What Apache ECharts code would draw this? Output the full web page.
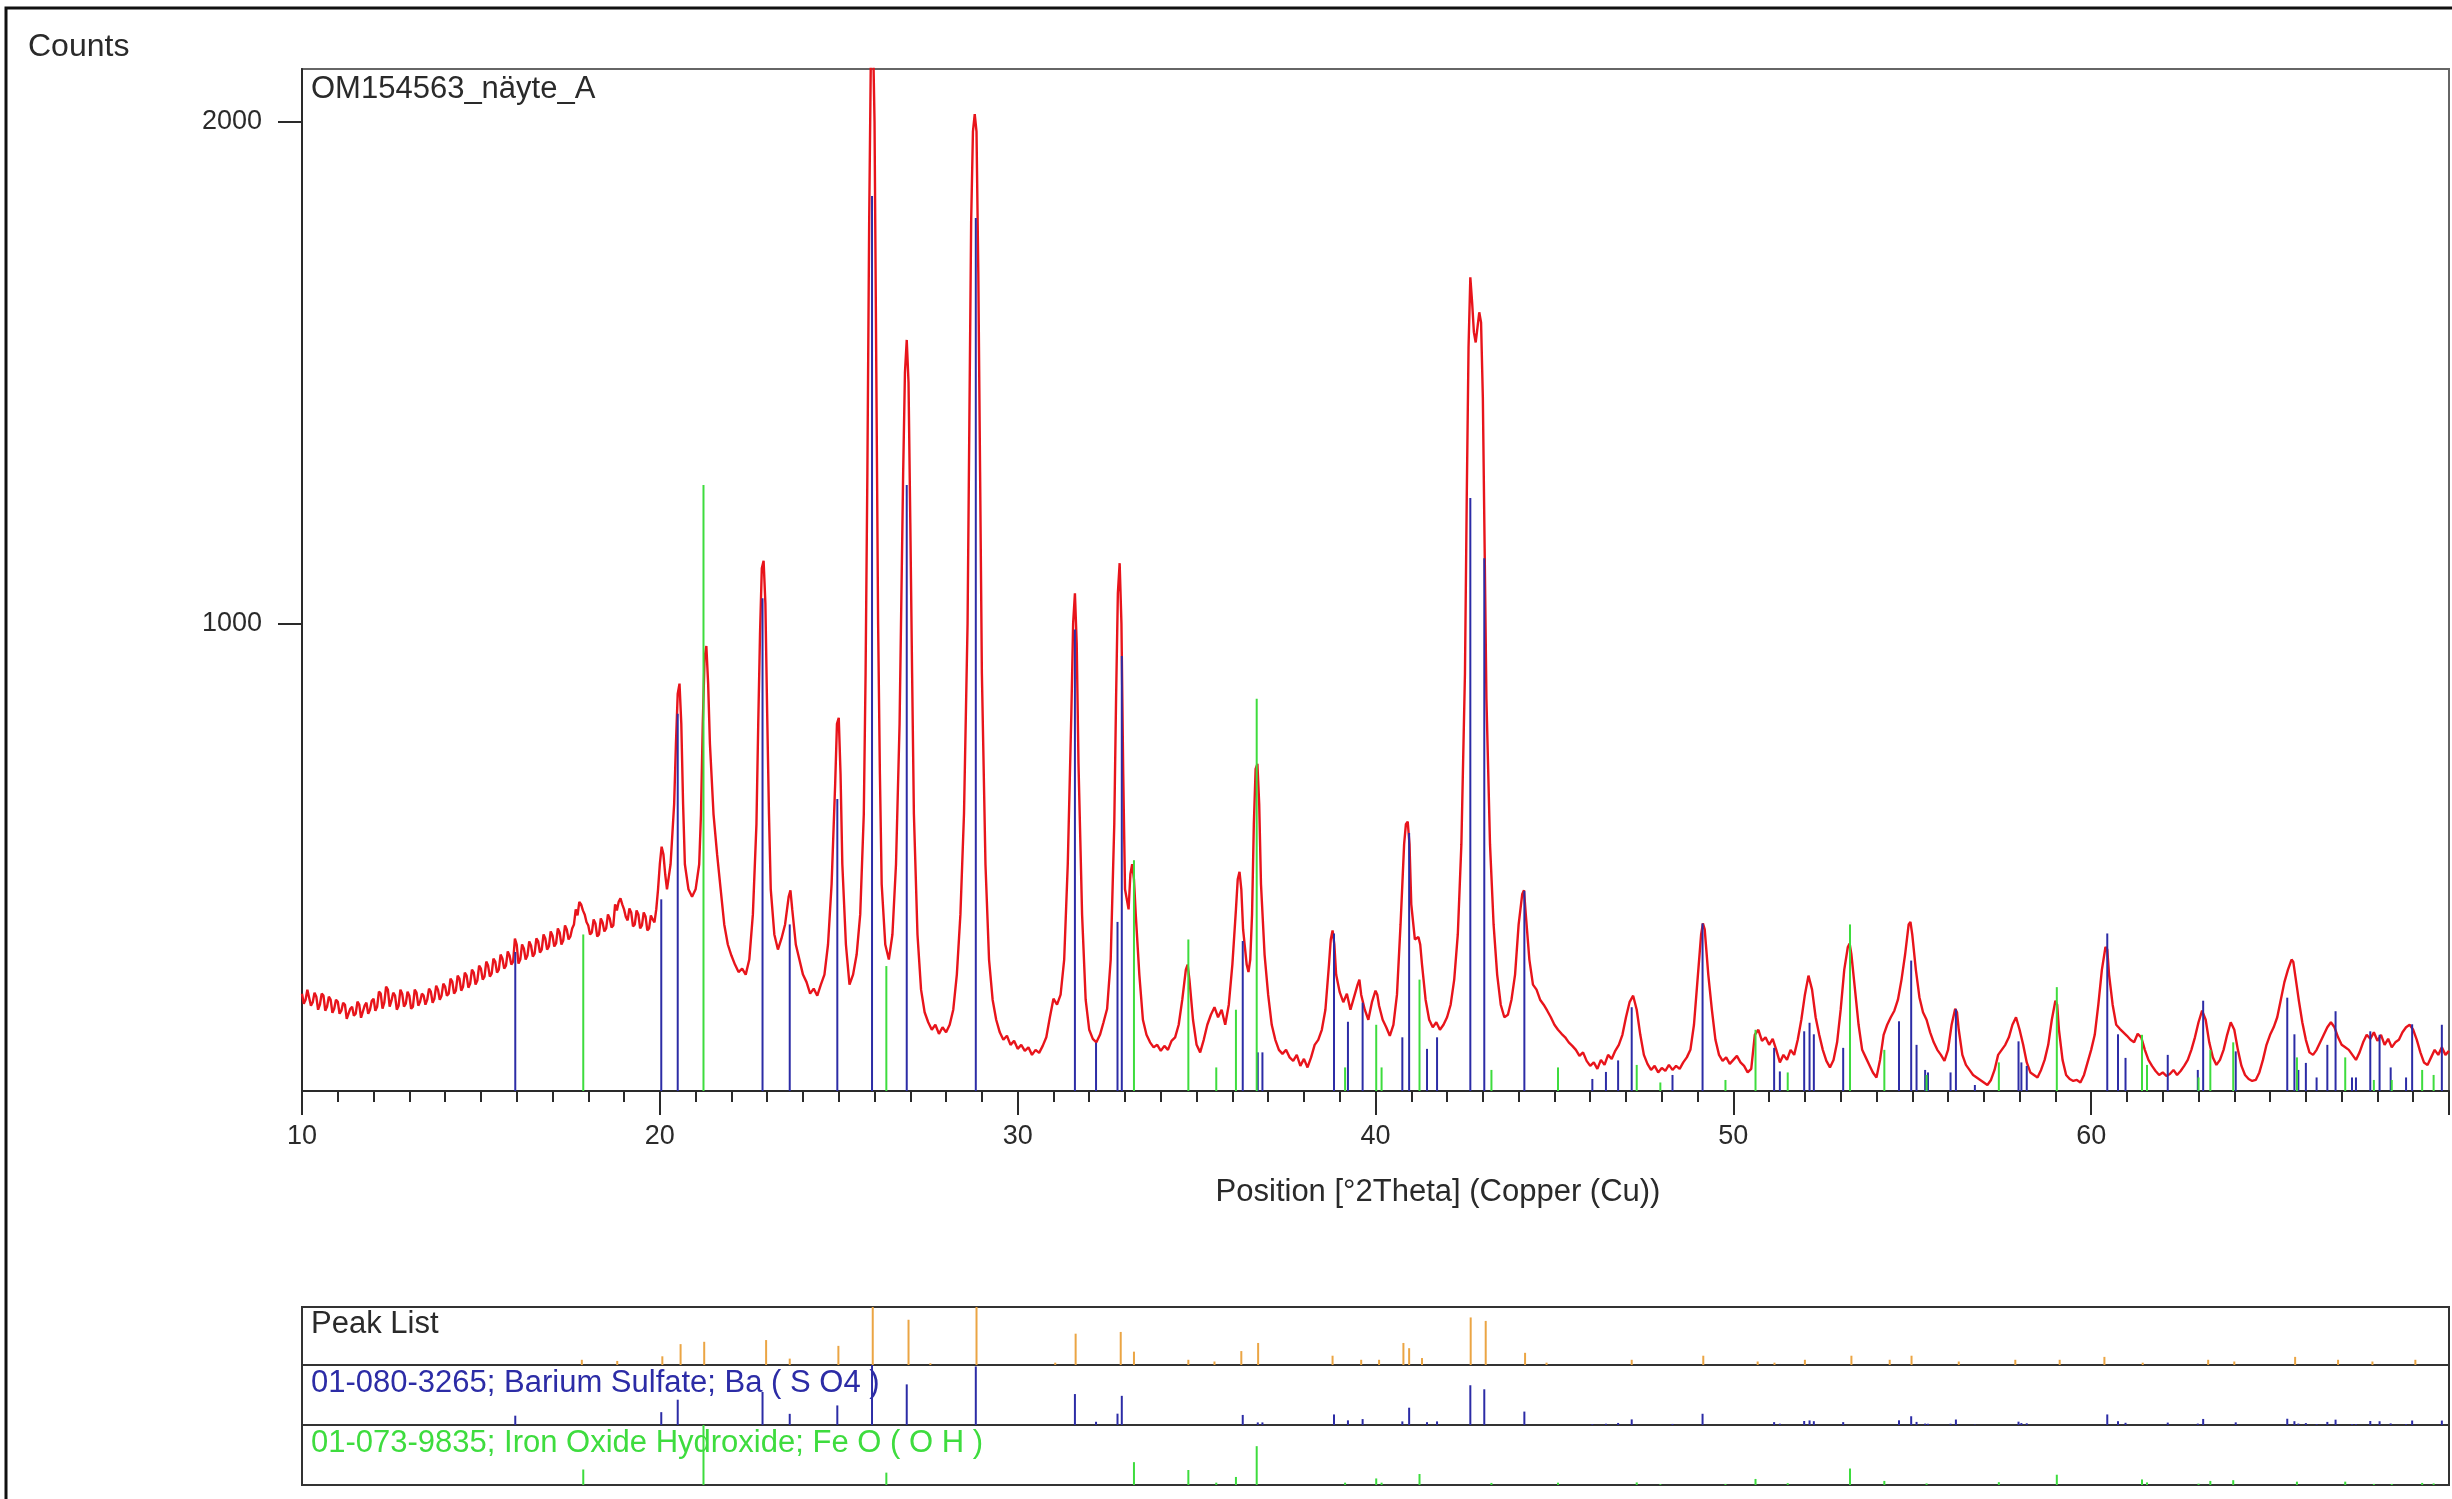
<!DOCTYPE html>
<html>
<head>
<meta charset="utf-8">
<title>OM154563_näyte_A</title>
<script src="https://cdn.jsdelivr.net/npm/echarts@6/dist/echarts.min.js"></script>
<style>
  html, body { margin: 0; padding: 0; background: #ffffff; }
  #chart { width: 2452px; height: 1499px; }
</style>
</head>
<body>
<div id="chart"></div>
<script>
// Measured scan: [position °2Theta, counts]
const scanPattern = [
  [10.0,262],[10.05,242],[10.1,250],[10.15,270],[10.2,268],[10.25,238],[10.3,245],[10.35,264],[10.4,256],[10.45,230],
  [10.5,240],[10.55,262],[10.6,258],[10.65,228],[10.7,236],[10.75,256],[10.8,250],[10.85,224],[10.9,232],[10.95,250],
  [11.0,246],[11.05,222],[11.1,228],[11.15,244],[11.2,240],[11.25,212],[11.3,215],[11.35,232],[11.4,236],[11.45,218],
  [11.5,222],[11.55,246],[11.6,240],[11.65,214],[11.7,226],[11.75,238],[11.8,244],[11.85,222],[11.9,230],[11.95,248],
  [12.0,252],[12.05,228],[12.1,236],[12.15,266],[12.2,262],[12.25,232],[12.3,244],[12.35,276],[12.4,270],[12.45,236],
  [12.5,248],[12.55,264],[12.6,258],[12.65,230],[12.7,238],[12.75,270],[12.8,262],[12.85,236],[12.9,242],[12.95,266],
  [13.0,258],[13.05,232],[13.1,236],[13.15,270],[13.2,264],[13.25,238],[13.3,246],[13.35,262],[13.4,258],[13.45,240],
  [13.5,250],[13.55,272],[13.6,266],[13.65,244],[13.7,252],[13.75,278],[13.8,270],[13.85,250],[13.9,258],[13.95,282],
  [14.0,276],[14.05,258],[14.1,262],[14.15,292],[14.2,286],[14.25,262],[14.3,268],[14.35,298],[14.4,292],[14.45,268],
  [14.5,276],[14.55,304],[14.6,298],[14.65,274],[14.7,282],[14.75,310],[14.8,304],[14.85,280],[14.9,288],[14.95,318],
  [15.0,312],[15.05,290],[15.1,296],[15.15,326],[15.2,318],[15.25,296],[15.3,302],[15.35,332],[15.4,326],[15.45,304],
  [15.5,310],[15.55,340],[15.6,332],[15.65,312],[15.7,318],[15.75,346],[15.8,338],[15.85,320],[15.9,326],[15.95,372],
  [16.0,360],[16.05,322],[16.1,330],[16.15,360],[16.2,352],[16.25,330],[16.3,338],[16.35,366],[16.4,358],[16.45,336],
  [16.5,342],[16.55,372],[16.6,366],[16.65,344],[16.7,350],[16.75,380],[16.8,372],[16.85,350],[16.9,356],[16.95,386],
  [17.0,378],[17.05,356],[17.1,362],[17.15,392],[17.2,384],[17.25,360],[17.3,368],[17.35,398],[17.4,390],[17.45,370],
  [17.5,376],[17.55,392],[17.6,400],[17.65,430],[17.7,418],[17.75,445],[17.8,440],[17.85,428],[17.9,420],[17.95,405],
  [18.0,398],[18.05,380],[18.1,384],[18.15,410],[18.2,402],[18.25,376],[18.3,380],[18.35,412],[18.4,404],[18.45,386],
  [18.5,392],[18.55,420],[18.6,412],[18.65,394],[18.7,398],[18.75,440],[18.8,428],[18.85,445],[18.9,452],[18.95,440],
  [19.0,430],[19.05,415],[19.1,408],[19.15,432],[19.2,424],[19.25,396],[19.3,400],[19.35,428],[19.4,420],[19.45,392],
  [19.5,398],[19.55,424],[19.6,416],[19.65,388],[19.7,392],[19.75,418],[19.8,410],[19.85,404],[19.9,430],[19.95,470],
  [20.0,520],[20.05,555],[20.1,540],[20.15,500],[20.2,470],[20.3,520],[20.4,640],[20.45,760],[20.5,860],[20.55,880],
  [20.6,800],[20.65,640],[20.7,520],[20.8,470],[20.9,455],[21.0,470],[21.1,520],[21.15,620],[21.2,800],[21.25,930],
  [21.3,955],[21.35,880],[21.4,760],[21.5,620],[21.6,540],[21.7,470],[21.8,400],[21.9,360],[22.0,338],[22.1,320],
  [22.2,305],[22.3,312],[22.4,300],[22.5,330],[22.6,420],[22.7,600],[22.75,800],[22.8,980],[22.85,1110],[22.9,1125],
  [22.95,1040],[23.0,820],[23.05,620],[23.1,470],[23.2,380],[23.3,350],[23.4,372],[23.5,400],[23.6,455],[23.65,468],
  [23.7,430],[23.8,360],[23.9,330],[24.0,300],[24.1,285],[24.2,262],[24.3,272],[24.4,258],[24.5,280],[24.6,300],
  [24.7,360],[24.8,480],[24.9,680],[24.95,800],[25.0,812],[25.05,700],[25.1,520],[25.2,360],[25.3,280],[25.4,300],
  [25.5,340],[25.6,420],[25.7,620],[25.75,900],[25.8,1300],[25.85,1800],[25.9,2150],[25.95,2200],[26.0,2000],[26.05,1500],
  [26.1,1000],[26.15,700],[26.2,480],[26.3,360],[26.4,330],[26.5,380],[26.6,520],[26.7,800],[26.75,1050],[26.8,1300],
  [26.85,1500],[26.9,1565],[26.95,1480],[27.0,1200],[27.05,900],[27.1,620],[27.2,380],[27.3,270],[27.4,225],[27.5,205],
  [27.6,190],[27.7,200],[27.8,182],[27.9,195],[28.0,185],[28.1,200],[28.2,230],[28.3,300],[28.4,420],[28.5,620],
  [28.6,1000],[28.65,1400],[28.7,1800],[28.75,1980],[28.8,2015],[28.85,1980],[28.9,1700],[28.95,1300],[29.0,900],[29.1,520],
  [29.2,330],[29.3,250],[29.4,210],[29.5,185],[29.6,170],[29.7,178],[29.8,160],[29.9,168],[30.0,152],[30.1,160],
  [30.2,148],[30.3,155],[30.4,140],[30.5,150],[30.6,144],[30.7,158],[30.8,175],[30.9,215],[31.0,252],[31.1,240],
  [31.2,260],[31.3,330],[31.4,520],[31.5,820],[31.55,1000],[31.6,1060],[31.65,960],[31.7,720],[31.8,420],[31.9,250],
  [32.0,190],[32.1,172],[32.2,165],[32.3,180],[32.4,205],[32.5,232],[32.6,330],[32.7,600],[32.75,850],[32.8,1060],
  [32.85,1120],[32.9,1000],[32.95,700],[33.0,470],[33.1,430],[33.15,500],[33.2,520],[33.25,490],[33.3,420],[33.4,300],
  [33.5,210],[33.6,180],[33.7,165],[33.8,155],[33.9,160],[34.0,148],[34.1,158],[34.2,150],[34.3,168],[34.4,175],
  [34.5,200],[34.6,250],[34.7,310],[34.75,320],[34.8,290],[34.9,210],[35.0,160],[35.1,145],[35.2,170],[35.3,200],
  [35.4,220],[35.5,235],[35.6,215],[35.7,230],[35.8,200],[35.9,240],[36.0,320],[36.1,430],[36.15,490],[36.2,505],
  [36.25,470],[36.3,390],[36.4,320],[36.45,305],[36.5,330],[36.55,420],[36.6,600],[36.65,710],[36.7,720],[36.75,640],
  [36.8,480],[36.9,340],[37.0,260],[37.1,200],[37.2,170],[37.3,150],[37.4,142],[37.5,150],[37.6,135],[37.7,128],
  [37.8,140],[37.9,118],[38.0,132],[38.1,115],[38.2,135],[38.3,160],[38.4,170],[38.5,190],[38.6,230],[38.7,320],
  [38.75,370],[38.8,388],[38.85,360],[38.9,300],[39.0,265],[39.1,245],[39.2,262],[39.3,230],[39.4,255],[39.5,280],
  [39.55,290],[39.6,260],[39.7,230],[39.8,210],[39.9,245],[40.0,268],[40.05,260],[40.1,238],[40.2,210],[40.3,195],
  [40.4,178],[40.5,200],[40.6,260],[40.7,400],[40.8,560],[40.85,600],[40.9,605],[40.95,560],[41.0,440],[41.1,370],
  [41.2,375],[41.25,360],[41.3,320],[41.4,250],[41.5,210],[41.6,195],[41.7,205],[41.8,190],[41.9,200],[42.0,215],
  [42.1,240],[42.2,290],[42.3,380],[42.4,560],[42.5,900],[42.55,1250],[42.6,1550],[42.65,1690],[42.7,1640],[42.75,1580],
  [42.8,1560],[42.85,1590],[42.9,1620],[42.95,1600],[43.0,1450],[43.05,1150],[43.1,850],[43.2,560],[43.3,400],[43.4,300],
  [43.5,240],[43.6,215],[43.7,220],[43.8,250],[43.9,300],[44.0,400],[44.1,460],[44.15,468],[44.2,420],[44.3,330],
  [44.4,280],[44.5,270],[44.6,250],[44.7,240],[44.8,228],[44.9,215],[45.0,200],[45.1,190],[45.2,182],[45.3,175],
  [45.4,165],[45.5,158],[45.6,150],[45.7,138],[45.8,145],[45.9,128],[46.0,118],[46.1,125],[46.2,112],[46.3,130],
  [46.4,120],[46.5,140],[46.6,132],[46.7,148],[46.8,160],[46.9,180],[47.0,215],[47.1,245],[47.2,258],[47.3,230],
  [47.4,180],[47.5,140],[47.6,122],[47.7,110],[47.8,118],[47.9,105],[48.0,114],[48.1,108],[48.2,120],[48.3,110],
  [48.4,118],[48.5,112],[48.6,125],[48.7,135],[48.8,150],[48.9,200],[49.0,290],[49.1,380],[49.15,402],[49.2,390],
  [49.3,300],[49.4,230],[49.5,170],[49.6,140],[49.7,128],[49.8,135],[49.9,122],[50.0,130],[50.1,138],[50.2,125],
  [50.3,118],[50.4,105],[50.5,112],[50.6,180],[50.7,190],[50.8,168],[50.9,175],[51.0,160],[51.1,172],[51.2,150],
  [51.3,125],[51.4,140],[51.5,130],[51.6,150],[51.7,140],[51.8,170],[51.9,210],[52.0,260],[52.1,298],[52.2,270],
  [52.3,215],[52.4,180],[52.5,150],[52.6,128],[52.7,115],[52.8,130],[52.9,165],[53.0,230],[53.1,310],[53.2,355],
  [53.25,362],[53.3,340],[53.4,270],[53.5,200],[53.6,150],[53.7,135],[53.8,120],[53.9,105],[54.0,95],[54.1,130],
  [54.2,180],[54.3,200],[54.4,215],[54.5,228],[54.6,250],[54.7,290],[54.8,340],[54.9,400],[54.95,405],[55.0,380],
  [55.1,310],[55.2,255],[55.3,225],[55.4,210],[55.5,185],[55.6,165],[55.7,150],[55.8,140],[55.9,128],[56.0,150],
  [56.1,200],[56.2,232],[56.25,225],[56.3,190],[56.4,140],[56.5,120],[56.6,110],[56.7,100],[56.8,95],[56.9,90],
  [57.0,85],[57.1,80],[57.2,90],[57.3,110],[57.4,140],[57.5,150],[57.6,160],[57.7,175],[57.8,200],[57.9,215],
  [58.0,190],[58.1,160],[58.2,125],[58.3,105],[58.4,100],[58.5,95],[58.6,110],[58.7,130],[58.8,160],[58.9,210],
  [59.0,248],[59.05,240],[59.1,190],[59.2,130],[59.3,100],[59.4,92],[59.5,88],[59.6,90],[59.7,85],[59.8,100],
  [59.9,125],[60.0,150],[60.1,180],[60.2,240],[60.3,310],[60.4,355],[60.45,350],[60.5,300],[60.6,240],[60.7,200],
  [60.8,192],[60.9,185],[61.0,178],[61.1,170],[61.2,165],[61.3,182],[61.4,175],[61.5,150],[61.6,130],[61.7,118],
  [61.8,108],[61.9,100],[62.0,105],[62.1,98],[62.2,102],[62.3,110],[62.4,100],[62.5,108],[62.6,118],[62.7,130],
  [62.8,150],[62.9,175],[63.0,205],[63.1,228],[63.15,230],[63.2,210],[63.3,165],[63.4,135],[63.5,120],[63.6,130],
  [63.7,150],[63.8,180],[63.9,205],[63.95,208],[64.0,190],[64.1,150],[64.2,118],[64.3,100],[64.4,92],[64.5,88],
  [64.6,90],[64.7,105],[64.8,130],[64.9,160],[65.0,180],[65.1,195],[65.2,215],[65.3,250],[65.4,285],[65.5,310],
  [65.6,330],[65.65,325],[65.7,300],[65.8,250],[65.9,205],[66.0,170],[66.1,145],[66.2,140],[66.3,150],[66.4,165],
  [66.5,180],[66.6,195],[66.7,205],[66.75,208],[66.8,195],[66.9,175],[67.0,160],[67.1,155],[67.2,150],[67.3,140],
  [67.4,130],[67.5,145],[67.6,165],[67.7,180],[67.8,172],[67.9,185],[68.0,168],[68.1,180],[68.2,160],[68.3,172],
  [68.4,155],[68.5,165],[68.6,170],[68.7,185],[68.8,195],[68.9,200],[68.95,202],[69.0,190],[69.1,170],[69.2,145],
  [69.3,125],[69.4,120],[69.5,135],[69.6,150],[69.7,140],[69.8,155],[69.9,140],[70.0,148]
];

// Reference 01-080-3265, Barium Sulfate: [°2Theta, scaled counts]
const bariumSulfateLines = [
  [15.96,345],[20.04,450],[20.5,820],[22.87,1050],[23.63,400],[24.96,650],[25.93,1852],[26.9,1276],
  [28.83,1808],[31.6,988],[32.19,164],[32.79,405],[32.91,935],[36.29,367],[36.71,145],[36.84,145],
  [38.84,382],[39.23,206],[39.64,244],[40.75,175],[40.94,582],[41.44,152],[41.72,175],[42.65,1250],
  [43.04,1130],[44.16,467],[46.06,92],[46.44,106],[46.78,129],[47.16,235],[48.3,100],[49.14,402],
  [51.14,154],[51.3,107],[51.98,187],[52.13,204],[52.25,181],[53.07,154],[54.63,207],[54.97,328],
  [55.12,160],[55.36,110],[55.44,105],[56.07,105],[56.22,231],[56.75,80],[57.97,167],[58.05,125],
  [58.2,118],[60.45,382],[60.75,181],[60.96,134],[62.14,140],[62.98,110],[63.13,248],[64.04,147],
  [65.48,254],[65.68,181],[65.79,110],[66.0,124],[66.3,95],[66.6,160],[66.83,227],[67.29,95],
  [67.4,95],[67.8,187],[68.06,180],[68.37,115],[68.8,95],[68.97,201],[69.8,200]
];

// Reference 01-073-9835, Iron Oxide Hydroxide: [°2Theta, scaled counts]
const ironOxideHydroxideLines = [
  [17.86,380],[21.22,1276],[26.33,317],[33.25,528],[34.77,370],[35.55,115],[36.1,230],[36.68,850],
  [39.15,115],[40.02,200],[40.17,115],[41.23,290],[43.24,110],[45.1,115],[47.3,120],[47.96,85],
  [49.78,90],[50.62,190],[51.52,105],[53.26,400],[54.22,150],[55.4,100],[57.42,125],[59.04,275],
  [61.42,180],[61.56,120],[63.0,95],[63.33,150],[63.97,165],[65.75,135],[67.1,135],[67.9,90],
  [68.4,90],[69.25,110],[69.57,100]
];

// Peak search result: [°2Theta, relative height %]
const peakList = [
  [17.82,9],[18.81,7],[20.07,15],[20.58,36],[21.24,40],[22.97,43],[23.63,11],[24.99,33],[25.95,100],
  [26.95,78],[27.56,3],[28.85,100],[31.05,4],[31.62,54],[32.88,57],[33.25,23],[34.77,9],[35.5,6],
  [36.25,24],[36.72,38],[38.8,16],[39.6,9],[40.1,9],[40.78,38],[40.94,29],[41.3,12],[42.66,82],
  [43.08,76],[44.18,21],[44.78,4],[47.16,9],[49.16,16],[50.68,6],[51.15,4],[52.0,9],[53.3,16],
  [54.37,9],[54.98,16],[56.3,6],[57.88,9],[59.12,9],[60.37,14],[61.44,4],[63.27,9],[64.0,6],
  [65.7,14],[66.9,9],[67.86,6],[69.06,9]
];

const countTicks = [1000, 2000];
const sampleName = 'OM154563_näyte_A';
const axisTitle = 'Position [°2Theta] (Copper (Cu))';
const bandLabels = [
  'Peak List',
  '01-080-3265; Barium Sulfate; Ba ( S O4 )',
  '01-073-9835; Iron Oxide Hydroxide; Fe O ( O H )'
];

const FONT = '"Liberation Sans", Arial, sans-serif';
const RED = '#e8141b';
const BLUE = '#2c2ca6';
const GREEN = '#3edc3e';
const ORANGE = '#eba544';
const INK = '#2a2a2a';

const COUNT_MIN = 68, COUNT_MAX = 2105;
const maxOf = arr => Math.max.apply(null, arr.map(p => p[1]));

// vertical stick from the bottom of its grid up to the value
function stickRenderer(color, width) {
  return function (params, api) {
    const cs = params.coordSys;
    const top = api.coord([api.value(0), api.value(1)]);
    return {
      type: 'line',
      shape: { x1: top[0], y1: cs.y + cs.height, x2: top[0], y2: Math.max(top[1], cs.y) },
      style: { stroke: color, lineWidth: width }
    };
  };
}

const PLOT_L = 302, PLOT_W = 2147;
const bands = [
  { top: 1307, height: 58 },
  { top: 1365, height: 60 },
  { top: 1425, height: 60 }
];

const hiddenX = i => ({ type: 'value', gridIndex: i, min: 10, max: 70, show: false });

const option = {
  animation: false,
  backgroundColor: '#ffffff',
  grid: [
    { left: PLOT_L, top: 69, width: PLOT_W, height: 1022, show: true,
      borderColor: '#666666', borderWidth: 2, backgroundColor: 'transparent' }
  ].concat(bands.map(b => ({ left: PLOT_L, top: b.top, width: PLOT_W, height: b.height,
      show: true, borderColor: '#333333', borderWidth: 2 }))),
  xAxis: [
    { type: 'value', gridIndex: 0, min: 10, max: 70, interval: 10,
      axisLine: { show: true, onZero: false, lineStyle: { color: INK, width: 2 } },
      axisTick: { show: true, length: 24, lineStyle: { color: INK, width: 2 } },
      minorTick: { show: true, splitNumber: 10, length: 11, lineStyle: { color: INK, width: 2 } },
      splitLine: { show: false },
      axisLabel: { color: INK, fontFamily: FONT, fontSize: 27, margin: 32, showMaxLabel: false },
      name: axisTitle, nameLocation: 'middle', nameGap: 86,
      nameTextStyle: { color: INK, fontFamily: FONT, fontSize: 31, padding: [0, 0, 0, 125] } },
    hiddenX(1), hiddenX(2), hiddenX(3)
  ],
  yAxis: [
    { type: 'value', gridIndex: 0, min: COUNT_MIN, max: COUNT_MAX,
      axisLine: { show: true, onZero: false, lineStyle: { color: INK, width: 2 } },
      axisTick: { show: true, length: 24, customValues: countTicks, lineStyle: { color: INK, width: 2 } },
      axisLabel: { color: INK, fontFamily: FONT, fontSize: 27, margin: 40, customValues: countTicks,
        formatter: v => String(v) },
      splitLine: { show: false } },
    { type: 'value', gridIndex: 1, min: 0, max: maxOf(peakList), show: false },
    { type: 'value', gridIndex: 2, min: COUNT_MIN, max: maxOf(bariumSulfateLines), show: false },
    { type: 'value', gridIndex: 3, min: COUNT_MIN, max: maxOf(ironOxideHydroxideLines), show: false }
  ],
  series: [
    { name: sampleName, type: 'line', xAxisIndex: 0, yAxisIndex: 0, data: scanPattern,
      showSymbol: false, symbol: 'none', sampling: 'none', clip: true, z: 2,
      lineStyle: { color: RED, width: 2.4 } },
    { name: bandLabels[1], type: 'custom', xAxisIndex: 0, yAxisIndex: 0, clip: true, z: 3,
      data: bariumSulfateLines, renderItem: stickRenderer(BLUE, 2) },
    { name: bandLabels[2], type: 'custom', xAxisIndex: 0, yAxisIndex: 0, clip: true, z: 3,
      data: ironOxideHydroxideLines, renderItem: stickRenderer(GREEN, 2) },
    { name: bandLabels[0], type: 'custom', xAxisIndex: 1, yAxisIndex: 1, clip: true, z: 3,
      data: peakList, renderItem: stickRenderer(ORANGE, 2) },
    { name: bandLabels[1] + ' ', type: 'custom', xAxisIndex: 2, yAxisIndex: 2, clip: true, z: 3,
      data: bariumSulfateLines, renderItem: stickRenderer(BLUE, 2) },
    { name: bandLabels[2] + ' ', type: 'custom', xAxisIndex: 3, yAxisIndex: 3, clip: true, z: 3,
      data: ironOxideHydroxideLines, renderItem: stickRenderer(GREEN, 2) }
  ],
  graphic: [
    { type: 'rect', silent: true, z: 0,
      shape: { x: 6, y: 8, width: 2600, height: 1700 },
      style: { fill: 'none', stroke: '#111111', lineWidth: 3 } },
    { type: 'text', x: 28, y: 47, z: 10,
      style: { text: 'Counts', font: '32px ' + FONT, fill: INK, textVerticalAlign: 'middle' } },
    { type: 'text', x: 311, y: 89, z: 10,
      style: { text: sampleName, font: '31px ' + FONT, fill: INK, textVerticalAlign: 'middle' } },
    { type: 'text', x: 311, y: 1324, z: 10,
      style: { text: bandLabels[0], font: '31px ' + FONT, fill: INK, textVerticalAlign: 'middle' } },
    { type: 'text', x: 311, y: 1383, z: 10,
      style: { text: bandLabels[1], font: '31px ' + FONT, fill: BLUE, textVerticalAlign: 'middle' } },
    { type: 'text', x: 311, y: 1443, z: 10,
      style: { text: bandLabels[2], font: '31px ' + FONT, fill: GREEN, textVerticalAlign: 'middle' } }
  ]
};

const chart = echarts.init(document.getElementById('chart'), null, { renderer: 'canvas' });
chart.setOption(option);
</script>
</body>
</html>
